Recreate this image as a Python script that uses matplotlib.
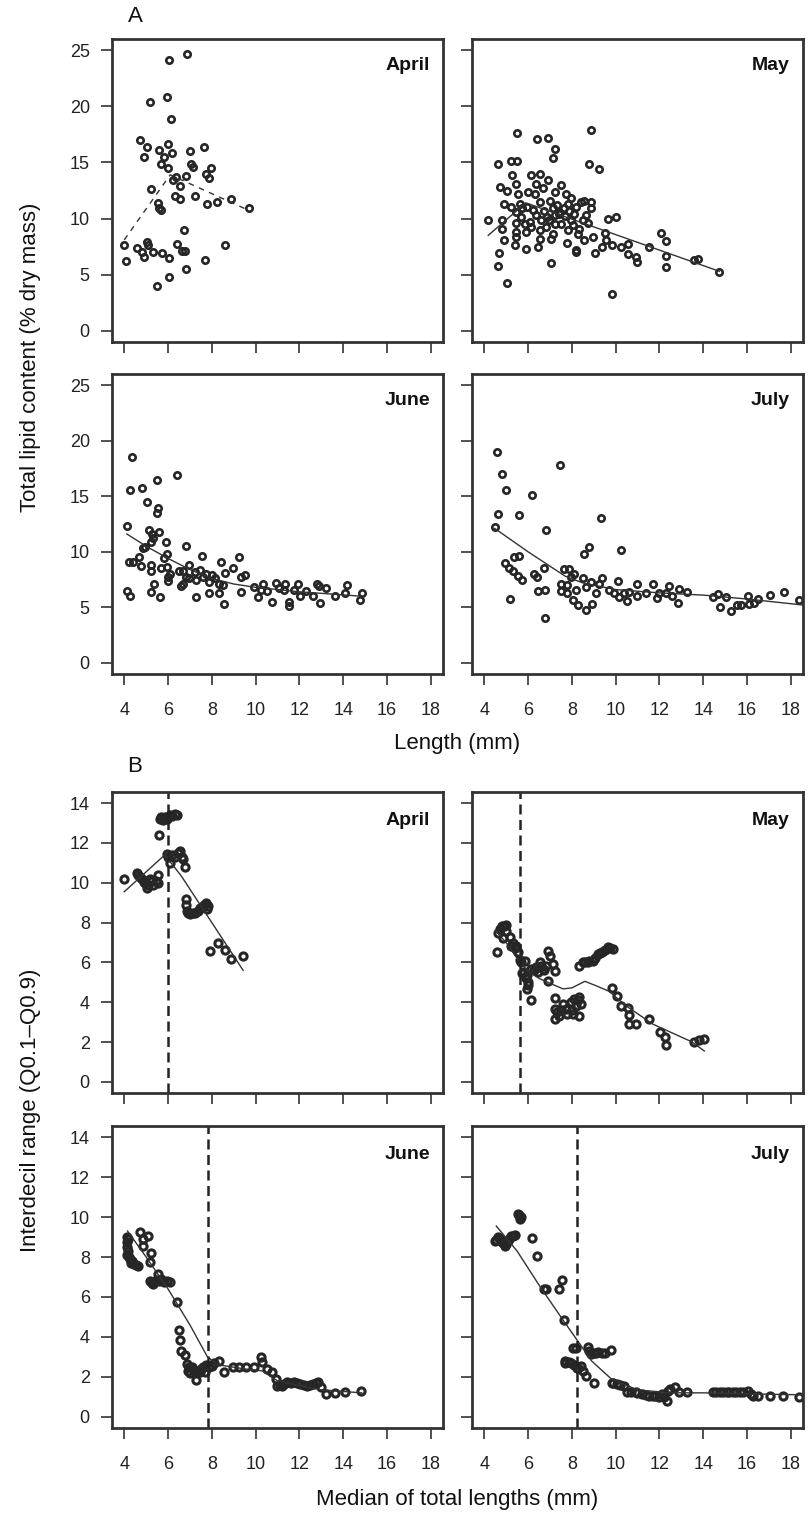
import numpy as np
import matplotlib
matplotlib.use("Agg")
import matplotlib.pyplot as plt

plt.rcParams['font.family'] = ['Liberation Sans', 'DejaVu Sans']

# ---- A: total lipid content (% dry mass) vs length (mm) ----
apr_len = [6.88, 6.05, 5.18, 5.96, 6.13, 4.71, 5.03, 4.89, 6.0, 5.6, 5.83, 6.17, 6.99, 7.65,
           5.69, 6.02, 7.06, 7.14, 7.74, 7.97, 7.85, 6.8, 6.38, 6.23, 6.56, 5.21, 6.31, 6.53,
           7.24, 7.76, 8.25, 8.89, 9.72, 5.55, 5.6, 5.67, 6.75, 3.98, 4.08, 4.56, 5.03, 5.1,
           4.81, 4.92, 5.3, 5.72, 6.05, 6.41, 6.64, 6.76, 7.71, 8.59, 6.81, 6.05, 5.5]
apr_lip = [24.7, 24.1, 20.4, 20.8, 18.9, 17.0, 16.4, 15.5, 16.6, 16.1, 15.5, 15.8, 16.0, 16.4,
           14.85, 14.5, 14.9, 14.6, 14.0, 14.5, 13.6, 13.8, 13.7, 13.4, 12.9, 12.6, 12.0, 11.7,
           12.05, 11.3, 11.5, 11.7, 10.9, 11.4, 10.9, 10.8, 9.0, 7.6, 6.2, 7.4, 7.9, 7.6,
           7.05, 6.6, 7.0, 6.96, 6.46, 7.7, 7.1, 7.1, 6.3, 7.6, 5.5, 4.8, 4.0]
apr_fit_x = [4.0, 6.1, 9.72]
apr_fit_y = [8.1, 13.9, 10.7]

may_len = [4.18, 4.61, 5.5, 5.21, 5.5, 5.29, 5.44, 4.71, 5.06, 5.56, 4.91, 5.24, 5.62, 5.44,
           5.74, 5.95, 4.79, 4.79, 4.91, 4.68, 4.61, 5.04, 5.47, 5.47, 5.44, 5.41, 5.92, 5.92,
           6.0, 6.15, 6.53, 6.42, 6.9, 7.21, 7.13, 6.9, 6.38, 6.68, 6.3, 6.53, 6.38, 6.6,
           6.15, 6.53, 6.53, 6.45, 7.06, 7.06, 7.13, 7.21, 7.21, 7.51, 7.74, 7.82, 7.96, 7.89,
           8.11, 8.18, 8.42, 8.57, 8.87, 8.87, 8.64, 8.72, 8.5, 8.34, 8.27, 8.54, 8.95, 7.82,
           7.77, 8.18, 8.18, 8.87, 8.77, 9.25, 9.63, 10.04, 9.52, 9.07, 9.36, 9.55, 9.85, 10.23,
           10.58, 10.58, 10.91, 10.96, 11.52, 12.09, 12.28, 12.28, 12.28, 9.85, 13.56, 13.76,
           14.74, 6.75, 6.98, 7.21, 7.43, 7.62, 6.83, 7.13, 7.51, 7.96, 8.04, 5.85, 6.07, 5.7,
           6.22, 7.3, 7.0, 6.85, 7.4, 7.7]
may_lip = [9.9, 14.9, 17.6, 15.1, 15.1, 13.9, 13.1, 12.8, 12.5, 12.2, 11.3, 11.0, 11.3, 10.6,
           10.9, 11.0, 9.85, 9.1, 8.06, 6.93, 5.8, 4.3, 9.6, 8.8, 8.4, 7.6, 7.3, 8.8,
           12.4, 13.9, 14.0, 17.1, 17.2, 16.2, 15.4, 13.4, 13.1, 12.7, 12.2, 11.5, 10.3, 9.85,
           9.25, 8.96, 8.2, 7.46, 8.2, 6.0, 10.9, 10.3, 12.4, 13.0, 12.2, 11.3, 11.8, 10.7,
           10.4, 11.0, 11.5, 11.6, 11.5, 10.9, 10.3, 9.6, 9.85, 9.1, 8.66, 8.06, 8.4, 8.96,
           7.8, 7.16, 7.0, 17.9, 14.9, 14.4, 10.0, 10.1, 8.75, 6.9, 7.46, 8.06, 7.6, 7.5,
           7.7, 6.87, 6.57, 6.12, 7.46, 8.7, 7.97, 6.7, 5.67, 3.28, 6.27, 6.4,
           5.28, 10.7, 9.85, 9.55, 10.45, 10.9, 9.25, 8.66, 9.55, 9.85, 9.4, 9.55, 9.7, 10.15,
           10.75, 11.2, 11.6, 10.1, 10.6, 10.2]
may_fit_x = [4.18, 5.9, 14.74]
may_fit_y = [8.5, 11.4, 5.3]

jun_len = [4.35, 4.27, 4.81, 5.48, 6.41, 5.06, 5.52, 5.48, 4.12, 5.15, 5.25, 5.6, 5.33, 5.2,
           4.95, 4.84, 5.89, 6.81, 4.2, 4.42, 4.68, 4.75, 5.2, 5.2, 5.7, 5.93, 5.82, 5.93,
           6.0, 6.0, 6.08, 4.12, 4.24, 5.2, 5.37, 5.63, 6.5, 6.68, 6.95, 6.61, 6.68, 6.84,
           6.98, 7.21, 7.26, 7.29, 7.56, 7.44, 7.59, 7.74, 7.89, 7.86, 8.0, 8.13, 8.35, 8.32,
           8.43, 8.52, 8.54, 8.6, 8.95, 9.25, 9.32, 9.5, 9.32, 9.93, 10.12, 10.23, 10.35, 10.53,
           10.73, 10.91, 11.06, 11.36, 11.29, 11.54, 11.54, 11.74, 11.92, 12.05, 12.29, 12.63,
           12.79, 12.89, 12.94, 13.2, 13.62, 14.1, 14.16, 14.75, 14.86]
jun_lip = [18.5, 15.6, 15.7, 16.5, 16.9, 14.5, 13.9, 13.5, 12.3, 12.0, 11.6, 11.8, 11.2, 10.9,
           10.4, 10.3, 10.9, 10.5, 9.08, 9.08, 9.5, 8.7, 8.8, 8.27, 8.5, 9.76, 9.4, 8.6,
           7.7, 7.4, 8.0, 6.5, 6.0, 6.4, 7.1, 5.9, 8.27, 8.3, 8.84, 6.93, 7.14, 7.7,
           7.6, 8.2, 7.5, 5.95, 9.6, 8.33, 7.74, 8.0, 7.3, 6.25, 7.9, 7.6, 7.14, 6.3,
           9.08, 7.0, 5.3, 8.1, 8.5, 9.5, 7.74, 7.95, 6.4, 6.8, 5.95, 6.55, 7.08, 6.46,
           5.45, 7.2, 6.7, 7.08, 6.6, 5.5, 5.12, 6.55, 7.08, 6.0, 6.46, 6.0,
           7.08, 6.9, 5.36, 6.7, 6.0, 6.25, 7.05, 5.7, 6.25]
jun_fit_x = [4.12, 5.0, 6.0, 6.5, 7.0, 8.0, 9.0, 10.0, 12.0, 14.85]
jun_fit_y = [11.6, 10.5, 9.4, 8.9, 8.4, 7.6, 7.1, 6.8, 6.4, 6.0]

jul_len = [4.6, 4.83, 4.98, 4.64, 4.48, 5.57, 6.18, 6.84, 7.46, 9.33, 10.23, 8.79, 8.55, 4.95,
           5.13, 5.34, 5.57, 5.31, 5.54, 5.74, 5.16, 6.25, 6.42, 6.72, 6.45, 6.78, 6.77, 7.66,
           7.89, 7.51, 7.77, 7.96, 8.11, 7.51, 7.8, 8.04, 8.27, 8.67, 8.92, 8.2, 8.5, 8.64,
           8.87, 9.1, 9.22, 9.4, 9.7, 9.93, 10.11, 10.16, 10.38, 10.5, 10.61, 10.96, 10.99,
           11.37, 11.72, 11.9, 11.97, 12.28, 12.46, 12.58, 12.85, 12.91, 13.26, 14.47, 14.7,
           14.77, 15.03, 15.27, 15.53, 15.75, 16.05, 16.09, 16.33, 16.51, 17.07, 17.68, 18.4]
jul_lip = [19.0, 17.0, 15.6, 13.4, 12.2, 13.3, 15.1, 12.0, 17.8, 13.0, 10.2, 10.4, 9.8, 9.0,
           8.57, 9.5, 9.58, 8.24, 7.8, 7.44, 5.74, 7.98, 7.74, 8.57, 6.5, 6.6, 4.08, 8.48,
           8.42, 7.14, 7.0, 7.74, 8.0, 6.5, 6.25, 5.7, 5.2, 4.76, 5.3, 6.55, 7.6, 6.85,
           7.3, 6.3, 7.08, 7.65, 6.6, 6.3, 7.35, 5.95, 6.3, 5.56, 6.4, 7.08, 6.04,
           6.25, 7.08, 5.8, 6.25, 6.25, 6.9, 6.04, 5.36, 6.64, 6.34, 5.95, 6.2,
           5.06, 5.95, 4.67, 5.2, 5.2, 6.0, 5.3, 5.42, 5.74, 6.1, 6.4, 5.65]
jul_fit_x = [4.48, 6.0, 7.7, 8.5, 10.0, 12.0, 14.0, 16.0, 18.6]
jul_fit_y = [12.1, 10.0, 7.8, 7.2, 6.6, 6.3, 6.1, 5.75, 5.2]

# ---- B: interdecil range vs median of total lengths (mm) ----
apr_med = [5.63, 5.7, 5.78, 5.86, 5.95, 6.08, 6.2, 6.41, 6.3,
           4.0, 4.57, 4.65, 4.72, 4.8, 4.88, 4.95, 5.03, 5.1, 5.18, 5.25, 5.33, 5.45, 5.55, 5.55,
           5.6, 5.95, 6.0, 6.08, 6.2, 6.31, 6.45, 6.56, 6.62, 6.68, 6.76,
           6.81, 6.81, 6.85, 6.91, 7.0, 7.14, 7.25, 7.35, 7.44, 7.55, 7.65, 7.74, 7.82, 7.78,
           7.92, 8.27, 8.6, 8.89, 9.43]
apr_idr = [13.2, 13.3, 13.15, 13.3, 13.2, 13.4, 13.35, 13.4, 13.45,
           10.2, 10.5, 10.4, 10.3, 10.2, 10.05, 10.0, 9.75, 9.9, 10.2, 10.1, 9.9, 10.1, 10.4, 10.0,
           12.4, 11.45, 11.3, 11.0, 11.4, 11.3, 11.5, 11.6, 11.3, 11.2, 10.8,
           9.2, 8.87, 8.6, 8.5, 8.45, 8.5, 8.5, 8.6, 8.75, 8.8, 8.9, 9.0, 8.83, 8.7,
           6.58, 6.97, 6.62, 6.17, 6.33]
apr_fit_bx = [4.0, 5.85, 6.6, 9.43]
apr_fit_by = [9.55, 11.4, 10.35, 5.6]
apr_brk = 5.98

may_med = [4.56, 4.64, 4.79, 4.98, 4.86, 5.16, 5.24, 5.47, 5.54, 5.62, 5.85, 5.74, 5.95, 6.0,
           5.95, 6.12, 6.15, 6.38, 6.53, 6.68, 6.83, 6.9, 7.01, 7.16, 7.21, 6.93, 7.21, 7.21,
           7.21, 7.43, 7.74, 7.96, 8.11, 8.34, 8.42, 8.34, 8.04, 8.34, 8.49, 8.72, 8.95, 9.18,
           9.4, 9.63, 9.88, 9.85, 10.05, 10.23, 10.58, 10.61, 10.61, 10.91, 11.52, 12.05, 12.25,
           12.28, 13.56, 13.79, 14.02,
           4.7, 4.9, 5.0, 7.3, 7.5, 7.6, 7.8, 8.0, 8.2, 8.3, 6.25, 6.45, 6.6, 6.75,
           8.6, 8.8, 9.05, 9.3, 9.5, 9.75, 5.3, 5.4, 5.7, 5.8, 5.9, 6.0]
may_idr = [6.5, 7.5, 7.83, 7.9, 7.25, 7.28, 6.83, 6.83, 6.5, 6.13, 6.08, 5.47, 5.37, 5.0,
           4.67, 4.12, 5.67, 5.75, 6.0, 5.67, 5.83, 6.58, 6.33, 5.92, 5.58, 5.08, 4.2, 3.67,
           3.17, 3.33, 3.67, 4.0, 4.17, 4.25, 3.92, 3.33, 3.42, 5.83, 6.03, 6.03, 6.08, 6.42,
           6.5, 6.75, 6.67, 4.7, 4.33, 3.8, 3.7, 3.37, 2.92, 2.92, 3.17, 2.5, 2.25,
           1.87, 2.0, 2.08, 2.13,
           7.7, 7.85, 7.6, 3.5, 3.6, 3.9, 3.4, 3.6, 3.8, 4.1, 5.6, 5.5, 5.8, 5.6,
           6.0, 6.05, 6.2, 6.45, 6.6, 6.7, 7.0, 6.7, 6.0, 5.5, 5.2, 4.85]
may_fit_bx = [4.5, 5.0, 5.5, 6.0, 6.5, 7.0, 7.6, 8.0, 8.6, 9.1, 9.7, 10.5, 11.7, 13.5, 14.05]
may_fit_by = [7.6, 7.0, 6.2, 5.55, 5.2, 4.95, 4.67, 4.72, 5.05, 4.83, 4.55, 3.8, 2.9, 2.0, 1.55]
may_brk = 5.62

jun_med = [4.12, 4.12, 4.15, 4.2, 4.35, 4.65, 4.72, 4.84, 5.07, 4.84, 5.2, 5.18, 5.18, 5.33,
           5.55, 5.7, 5.93, 6.08, 6.41, 6.48, 6.53, 6.61, 6.76, 6.87, 6.96, 7.14, 7.26, 7.44,
           7.67, 7.89, 8.12, 8.34, 8.56, 8.95, 9.25, 9.55, 9.93, 10.23, 10.31, 10.53, 10.76,
           10.91, 10.98, 11.21, 11.44, 11.74, 12.04, 12.34, 12.64, 12.87, 12.99, 13.2, 13.62,
           14.1, 14.8,
           4.12, 4.14, 4.18, 4.25, 4.3, 4.45, 4.55, 5.25, 5.4, 5.5, 5.6, 5.8, 6.9, 7.0, 7.1,
           7.3, 7.5, 7.6, 7.75, 8.0, 11.1, 11.3, 11.6, 11.9, 12.2, 12.5, 12.75]
jun_idr = [8.98, 8.73, 8.31, 7.98, 7.81, 7.56, 9.23, 8.9, 9.07, 8.56, 8.18, 7.73, 6.81, 6.64,
           7.15, 6.9, 6.81, 6.73, 5.76, 4.36, 3.86, 3.31, 3.09, 2.64, 2.47, 2.39, 1.85, 2.22,
           2.22, 2.47, 2.69, 2.8, 2.22, 2.47, 2.47, 2.47, 2.47, 2.97, 2.72, 2.39, 2.22,
           1.89, 1.52, 1.55, 1.72, 1.72, 1.64, 1.52, 1.64, 1.72, 1.47, 1.14, 1.19,
           1.22, 1.3,
           8.5, 8.1, 8.9, 7.9, 7.7, 7.65, 7.6, 6.7, 6.8, 6.85, 6.8, 6.75, 2.3, 2.2, 2.5,
           2.3, 2.4, 2.5, 2.6, 2.55, 1.6, 1.65, 1.7, 1.7, 1.6, 1.6, 1.7]
jun_fit_bx = [4.15, 5.0, 6.0, 7.0, 7.8, 8.3, 9.5, 10.3, 11.0, 12.0, 13.0, 14.85]
jun_fit_by = [9.3, 8.0, 6.4, 4.6, 3.0, 2.6, 2.4, 2.3, 1.8, 1.55, 1.35, 1.2]
jun_brk = 7.82

jul_med = [4.48, 4.64, 4.79, 4.94, 5.09, 5.24, 5.39, 5.54, 5.69, 5.62, 6.19, 6.42, 6.72, 6.83,
           7.4, 7.56, 7.66, 7.71, 7.96, 8.04, 8.19, 8.22, 8.42, 8.64, 9.02, 8.72, 8.87, 9.1,
           9.4, 9.78, 9.82, 10.08, 10.38, 10.54, 10.91, 11.22, 11.52, 11.82, 12.12, 12.35, 12.5,
           12.73, 12.88, 13.26, 14.47, 14.77, 15.07, 15.38, 15.68, 16.06, 16.28, 16.51, 17.04,
           17.65, 18.4,
           4.55, 4.7, 4.85, 5.0, 5.15, 5.3, 5.58, 5.65, 7.7, 7.85, 8.1, 8.3, 8.5, 8.8, 9.0,
           9.2, 9.5, 9.9, 10.2, 10.7, 11.0, 11.4, 11.7, 12.0, 12.2, 12.4, 14.6, 14.9, 15.2,
           15.5, 15.8, 16.2]
jul_idr = [8.81, 8.98, 8.73, 8.56, 8.81, 9.07, 9.1, 10.15, 9.98, 9.9, 8.93, 8.06, 6.39, 6.39,
           6.39, 6.84, 4.86, 2.69, 2.69, 3.47, 3.47, 2.42, 2.52, 2.05, 1.67, 3.52, 3.14, 3.22,
           3.22, 3.36, 1.69, 1.64, 1.55, 1.22, 1.25, 1.14, 1.05, 1.05, 1.14, 0.8, 1.39,
           1.47, 1.25, 1.22, 1.22, 1.22, 1.25, 1.25, 1.25, 1.3, 1.05, 1.02, 1.02,
           1.02, 0.97,
           8.85, 8.9, 8.7, 8.65, 8.9, 9.05, 10.1, 10.0, 2.8, 2.75, 2.6, 2.45, 2.3, 3.3, 3.2,
           3.25, 3.2, 1.7, 1.6, 1.25, 1.2, 1.1, 1.05, 1.0, 1.0, 1.3, 1.25, 1.25, 1.25,
           1.25, 1.25, 1.15]
jul_fit_bx = [4.55, 5.5, 6.5, 7.5, 8.3, 8.9, 9.8, 11.0, 12.5, 14.0, 16.0, 18.6]
jul_fit_by = [9.55, 8.3, 6.6, 5.0, 3.75, 2.8, 1.9, 1.35, 1.2, 1.2, 1.15, 1.1]
jul_brk = 8.22

months = ["April", "May", "June", "July"]
xticks = [4, 6, 8, 10, 12, 14, 16, 18]

W, H = 812, 1515
fig = plt.figure(figsize=(W / 100, H / 100), dpi=100)

col_left = [112, 472]
col_w = 331
rows = {"A": [(39, 342), (374, 674)], "B": [(792, 1093), (1126, 1428)]}

ink = "#262626"


def make_ax(top, bottom, left):
    ax = fig.add_axes([left / W, 1 - bottom / H, col_w / W, (bottom - top) / H])
    for s in ax.spines.values():
        s.set_linewidth(2.0)
        s.set_color("#333333")
    ax.tick_params(direction="out", length=8, width=1.2, color="#333333",
                   labelsize=13, labelcolor="#222222")
    ax.tick_params(axis="x", pad=12)
    ax.tick_params(axis="y", pad=8)
    ax.set_xlim(3.44, 18.56)
    ax.set_xticks(xticks)
    return ax


lipid = [(apr_len, apr_lip, apr_fit_x, apr_fit_y),
         (may_len, may_lip, may_fit_x, may_fit_y),
         (jun_len, jun_lip, jun_fit_x, jun_fit_y),
         (jul_len, jul_lip, jul_fit_x, jul_fit_y)]
idr = [(apr_med, apr_idr, apr_fit_bx, apr_fit_by, apr_brk),
       (may_med, may_idr, may_fit_bx, may_fit_by, may_brk),
       (jun_med, jun_idr, jun_fit_bx, jun_fit_by, jun_brk),
       (jul_med, jul_idr, jul_fit_bx, jul_fit_by, jul_brk)]

for i in range(4):
    r, c = divmod(i, 2)
    # panel A
    top, bottom = rows["A"][r]
    ax = make_ax(top, bottom, col_left[c])
    x, y, fx, fy = lipid[i]
    ax.plot(x, y, "o", ms=4.6, mfc="none", mec=ink, mew=1.9)
    ls = (0, (4, 4)) if i == 0 else "-"
    ax.plot(fx, fy, color="#333333", lw=1.0, ls=ls)
    ax.set_ylim(-1, 26)
    ax.set_yticks([0, 5, 10, 15, 20, 25])
    ax.text(0.961, 0.898, months[i], transform=ax.transAxes, ha="right",
            va="baseline", fontsize=14, fontweight="bold", color="#111111")
    if r == 0:
        ax.set_xticklabels([])
    if c == 1:
        ax.set_yticklabels([])

    # panel B
    top, bottom = rows["B"][r]
    ax = make_ax(top, bottom, col_left[c])
    x, y, fx, fy, brk = idr[i]
    ax.plot(x, y, "o", ms=5.2, mfc="none", mec=ink, mew=2.2)
    ax.plot(fx, fy, color="#333333", lw=1.0)
    ax.axvline(brk, color="#222222", lw=1.8, ls=(0, (4, 2.2)))
    ax.set_ylim(-0.56, 14.56)
    ax.set_yticks([0, 2, 4, 6, 8, 10, 12, 14])
    ax.text(0.961, 0.89, months[i], transform=ax.transAxes, ha="right",
            va="baseline", fontsize=14, fontweight="bold", color="#111111")
    if r == 0:
        ax.set_xticklabels([])
    if c == 1:
        ax.set_yticklabels([])

fig.text(135 / W, 1 - 17 / H, "A", fontsize=16, ha="center", va="center", color="#111111")
fig.text(135 / W, 1 - 766 / H, "B", fontsize=16, ha="center", va="center", color="#111111")
fig.text(457 / W, 1 - 744 / H, "Length (mm)", fontsize=16, ha="center", va="center",
         color="#111111")
fig.text(457 / W, 1 - 1500 / H, "Median of total lengths (mm)", fontsize=16, ha="center",
         va="center", color="#111111")
fig.text(31 / W, 1 - 357 / H, "Total lipid content (% dry mass)", fontsize=16,
         rotation=90, ha="center", va="center", color="#111111")
fig.text(31 / W, 1 - 1110 / H, "Interdecil range (Q0.1\u2013Q0.9)", fontsize=16,
         rotation=90, ha="center", va="center", color="#111111")

fig.savefig("out.png", dpi=100)
